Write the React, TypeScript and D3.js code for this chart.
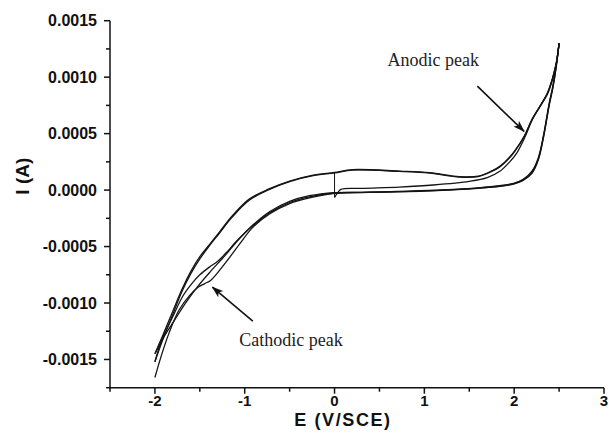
import React from "react";
import * as d3 from "d3";

// Axis ticks
const xMajorTicks = [-2, -1, 0, 1, 2, 3];
const xMinorTicks = [-2.5, -1.5, -0.5, 0.5, 1.5, 2.5];
const yMajorTicks = [-0.0015, -0.001, -0.0005, 0, 0.0005, 0.001, 0.0015];
const yMinorTicks = [-0.00175, -0.00125, -0.00075, -0.00025, 0.00025, 0.00075, 0.00125];

// Potential sweeps, [E (V/SCE), I (A)]
const startStep: [number, number][] = [
  [0, 0.000157],
  [0, -0.000065],
];

const sweepF1: [number, number][] = [
  [0, -0.000065], [0.03, -0.00003], [0.07, 0.000006], [0.3, 0.000015], [0.72, 0.000027],
  [1.1, 0.000045], [1.5, 0.000077], [1.7, 0.00011], [1.84, 0.000166], [1.95, 0.00025],
  [2.03, 0.00033], [2.12, 0.00047], [2.2, 0.00062], [2.3, 0.00076], [2.37, 0.00085],
  [2.43, 0.00099], [2.47, 0.00112], [2.5, 0.0013],
];

const sweepR1: [number, number][] = [
  [2.5, 0.0013], [2.47, 0.0011], [2.43, 0.0009], [2.39, 0.00075], [2.33, 0.00048],
  [2.27, 0.00027], [2.2, 0.00015], [2.1, 0.000085], [2.0, 0.000055], [1.84, 0.000033],
  [1.6, 0.000016], [1.2, -0.000002], [0.7, -0.000016], [0.3, -0.00002], [0, -0.000022],
  [-0.28, -0.00005], [-0.5, -0.0001], [-0.72, -0.00019], [-0.91, -0.00031],
  [-1.07, -0.00044], [-1.22, -0.00058], [-1.38, -0.00072], [-1.52, -0.00085],
  [-1.65, -0.00099], [-1.78, -0.00115], [-1.9, -0.0013], [-2, -0.00145],
];

const sweepF2: [number, number][] = [
  [-2, -0.00145], [-1.92, -0.0013], [-1.81, -0.00109], [-1.7, -0.00088], [-1.6, -0.00072],
  [-1.5, -0.00059], [-1.4, -0.00049], [-1.28, -0.00037], [-1.14, -0.00023], [-0.95, -0.00008],
  [-0.73, 0.00001], [-0.5, 0.00008], [-0.25, 0.00013], [0, 0.000157], [0.2, 0.000181],
  [0.72, 0.000168], [1.06, 0.000154], [1.39, 0.000119], [1.6, 0.000124], [1.75, 0.00017],
  [1.84, 0.00021], [1.98, 0.00032], [2.06, 0.00041], [2.12, 0.00049], [2.2, 0.00063],
  [2.3, 0.00076], [2.37, 0.00086], [2.43, 0.001], [2.47, 0.00113], [2.5, 0.0013],
];

const sweepR2: [number, number][] = [
  [2.5, 0.0013], [2.47, 0.00111], [2.43, 0.00091], [2.39, 0.00076], [2.33, 0.00049],
  [2.27, 0.00028], [2.2, 0.00016], [2.1, 0.00009], [2.0, 0.000058], [1.84, 0.000036],
  [1.6, 0.000018], [1.2, 0], [0.7, -0.000014], [0.3, -0.00002], [0, -0.000026],
  [-0.28, -0.00006], [-0.5, -0.00011], [-0.72, -0.0002], [-0.9, -0.00031], [-1.0, -0.00038],
  [-1.1, -0.00046], [-1.2, -0.00055], [-1.3, -0.00063], [-1.39, -0.00068], [-1.5, -0.00075],
  [-1.58, -0.00082], [-1.69, -0.00094], [-1.8, -0.00112], [-1.92, -0.00132], [-2, -0.00152],
];

const sweepF3: [number, number][] = [
  [-2, -0.00152], [-1.92, -0.00134], [-1.81, -0.00112], [-1.7, -0.0009], [-1.6, -0.00074],
  [-1.5, -0.00061], [-1.4, -0.0005], [-1.28, -0.00038], [-1.14, -0.00024], [-0.95, -0.00009],
  [-0.73, 0.000004], [-0.5, 0.000075], [-0.25, 0.000125], [0, 0.000152], [0.2, 0.000177],
  [0.72, 0.000165], [1.06, 0.00015], [1.39, 0.000116], [1.6, 0.00012], [1.75, 0.000165],
  [1.84, 0.000205], [1.98, 0.000315], [2.06, 0.000405], [2.12, 0.000485], [2.2, 0.000625],
  [2.3, 0.000755], [2.37, 0.000855], [2.43, 0.000995], [2.47, 0.00113], [2.5, 0.0013],
];

const sweepR3: [number, number][] = [
  [2.5, 0.0013], [2.47, 0.00112], [2.43, 0.00092], [2.39, 0.00077], [2.33, 0.0005],
  [2.27, 0.00029], [2.2, 0.00017], [2.1, 0.000095], [2.0, 0.000062], [1.84, 0.000039],
  [1.6, 0.00002], [1.2, 0.000002], [0.7, -0.000012], [0.3, -0.000022], [0, -0.00003],
  [-0.28, -0.00007], [-0.5, -0.00012], [-0.72, -0.00021], [-0.91, -0.00033],
  [-1.06, -0.00048], [-1.2, -0.00063], [-1.31, -0.00074], [-1.38, -0.0008],
  [-1.45, -0.00083], [-1.52, -0.00086], [-1.61, -0.00093], [-1.73, -0.00106],
  [-1.84, -0.00126], [-1.93, -0.00147], [-2, -0.00166],
];

const sweeps = [sweepF1, sweepR1, sweepF2, sweepR2, sweepF3, sweepR3];

// Annotations: label text, label anchor, arrow tail, arrow head
const annotationLabels = ["Anodic peak", "Cathodic peak"];
const annotationTextAt: [number, number][] = [
  [0.59, 0.0011],
  [-1.06, -0.00138],
];
const annotationArrowFrom: [number, number][] = [
  [1.59, 0.00092],
  [-0.91, -0.00116],
];
const annotationArrowTo: [number, number][] = [
  [2.11, 0.00052],
  [-1.36, -0.00086],
];

const W = 609;
const H = 440;
const M = { left: 110, right: 5, top: 20.7, bottom: 52.3 };

const locale = d3.formatLocale({
  decimal: ".",
  thousands: ",",
  grouping: [3],
  currency: ["", ""],
  minus: "-",
});
const fmtY = locale.format(".4f");
const fmtX = locale.format("d");

export default function App() {
  const x = d3.scaleLinear().domain([-2.5, 3]).range([M.left, W - M.right]);
  const y = d3.scaleLinear().domain([-0.00175, 0.0015]).range([H - M.bottom, M.top]);

  const smooth = d3
    .line<[number, number]>()
    .x((d) => x(d[0]))
    .y((d) => y(d[1]))
    .curve(d3.curveCatmullRom.alpha(0.5));
  const straight = d3
    .line<[number, number]>()
    .x((d) => x(d[0]))
    .y((d) => y(d[1]));

  const x0 = x(-2.5);
  const y0 = y(-0.00175);
  const sans = "'Liberation Sans', Arial, sans-serif";
  const serif = "'Liberation Serif', 'Times New Roman', serif";

  return (
    <svg
      width={W}
      height={H}
      style={{ position: "absolute", left: 0, top: 0, background: "#fff" }}
    >
      <defs>
        <marker
          id="arrowhead"
          viewBox="0 0 12 8"
          refX="11"
          refY="4"
          markerWidth="12"
          markerHeight="8"
          markerUnits="userSpaceOnUse"
          orient="auto"
        >
          <path d="M0,0 L12,4 L0,8 L3,4 z" fill="#111" />
        </marker>
      </defs>

      {/* curves */}
      <g fill="none" stroke="#141414" strokeWidth={1.3} strokeLinejoin="round">
        <path d={straight(startStep) ?? ""} strokeWidth={1} />
        {sweeps.map((s, i) => (
          <path key={i} d={smooth(s) ?? ""} />
        ))}
      </g>

      {/* axes */}
      <g stroke="#111" strokeWidth={1.5}>
        <line x1={x0} x2={x0} y1={y(0.0015)} y2={y0 + 0.75} />
        <line x1={x0 - 0.75} x2={x(3)} y1={y0} y2={y0} />
        {xMajorTicks.map((t) => (
          <line key={"xM" + t} x1={x(t)} x2={x(t)} y1={y0} y2={y0 + 6} />
        ))}
        {xMinorTicks.map((t) => (
          <line key={"xm" + t} x1={x(t)} x2={x(t)} y1={y0} y2={y0 + 4} />
        ))}
        {yMajorTicks.map((t) => (
          <line key={"yM" + t} x1={x0 - 6} x2={x0} y1={y(t)} y2={y(t)} />
        ))}
        {yMinorTicks.map((t) => (
          <line key={"ym" + t} x1={x0 - 4} x2={x0} y1={y(t)} y2={y(t)} />
        ))}
      </g>

      <g fontFamily={sans} fontWeight="bold" fill="#111">
        {xMajorTicks.map((t) => (
          <text key={"xl" + t} x={x(t)} y={y0 + 18.5} fontSize={15} textAnchor="middle">
            {fmtX(t)}
          </text>
        ))}
        {yMajorTicks.map((t) => (
          <text
            key={"yl" + t}
            x={x0 - 13}
            y={y(t)}
            fontSize={16}
            textAnchor="end"
            dominantBaseline="central"
          >
            {fmtY(t)}
          </text>
        ))}
        <text x={343} y={425.5} fontSize={18} letterSpacing={1.6} textAnchor="middle">
          E (V/SCE)
        </text>
        <text
          transform={`translate(29, ${(y(0.0015) + y0) / 2 - 28}) rotate(-90)`}
          fontSize={19}
          textAnchor="middle"
        >
          I (A)
        </text>
      </g>

      {/* annotations */}
      <g>
        {annotationLabels.map((label, i) => (
          <g key={label}>
            <line
              x1={x(annotationArrowFrom[i][0])}
              y1={y(annotationArrowFrom[i][1])}
              x2={x(annotationArrowTo[i][0])}
              y2={y(annotationArrowTo[i][1])}
              stroke="#111"
              strokeWidth={1.6}
              markerEnd="url(#arrowhead)"
            />
            <text
              x={x(annotationTextAt[i][0])}
              y={y(annotationTextAt[i][1])}
              fontFamily={serif}
              fontSize={18}
              fill="#222"
            >
              {label}
            </text>
          </g>
        ))}
      </g>
    </svg>
  );
}
